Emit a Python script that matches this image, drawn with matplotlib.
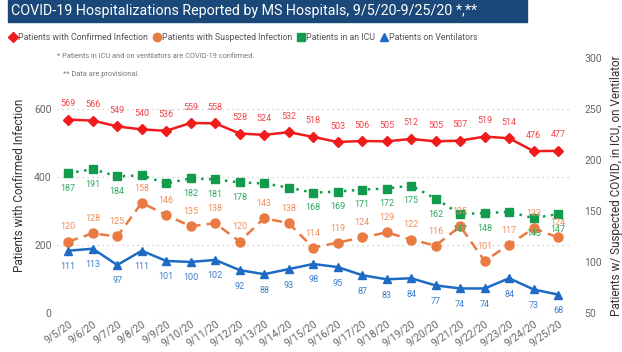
import matplotlib.pyplot as plt
from matplotlib.patches import Rectangle
from matplotlib.lines import Line2D

plt.rcParams['font.family'] = ['Roboto', 'DejaVu Sans']

dates = ['9/5/20', '9/6/20', '9/7/20', '9/8/20', '9/9/20', '9/10/20', '9/11/20',
         '9/12/20', '9/13/20', '9/14/20', '9/15/20', '9/16/20', '9/17/20', '9/18/20',
         '9/19/20', '9/20/20', '9/21/20', '9/22/20', '9/23/20', '9/24/20', '9/25/20']
confirmed = [569, 566, 549, 540, 536, 559, 558, 528, 524, 532, 518,
             503, 506, 505, 512, 505, 507, 519, 514, 476, 477]
suspected = [120, 128, 125, 158, 146, 135, 138, 120, 143, 138, 114,
             119, 124, 129, 122, 116, 135, 101, 117, 133, 124]
icu = [187, 191, 184, 185, 177, 182, 181, 178, 177, 173, 168,
       169, 171, 172, 175, 162, 147, 148, 149, 143, 147]
vent = [111, 113, 97, 111, 101, 100, 102, 92, 88, 93, 98,
        95, 87, 83, 84, 77, 74, 74, 84, 73, 68]
# ICU labels hidden in the original (collisions)
icu_hidden = [3, 4, 8, 9, 18]

c_red = '#F01B1B'
c_orange = '#E97A41'
c_green = '#129B4C'
c_blue = '#1D6BC4'

fig = plt.figure(figsize=(6.22, 3.52), dpi=100)
ax = fig.add_axes([0.092, 0.111, 0.825, 0.724])
ax2 = ax.twinx()

x = list(range(len(dates)))

ax.plot(x, confirmed, color=c_red, lw=1.8, marker='D', ms=5.5, zorder=5)
ax2.plot(x, icu, color=c_green, lw=1.8, ls=(0, (1, 2.2)), marker='s', ms=5.5)
ax2.plot(x, suspected, color=c_orange, lw=1.8, ls=(0, (4, 2.5)), marker='o', ms=6.5)
ax2.plot(x, vent, color=c_blue, lw=1.8, marker='^', ms=6)

lab = dict(fontsize=6.5, ha='center', va='center', textcoords='offset points')
for i in x:
    ax.annotate(str(confirmed[i]), (i, confirmed[i]), xytext=(0, 11.5), color='#F0454A', **lab)
    ax2.annotate(str(suspected[i]), (i, suspected[i]), xytext=(0, 10.5), color='#EE8E5E', **lab)
    if i not in icu_hidden:
        ax2.annotate(str(icu[i]), (i, icu[i]), xytext=(0, -11), color='#2EA85F', **lab)
    ax2.annotate(str(vent[i]), (i, vent[i]), xytext=(0, -11.5), color='#3B7FCC', **lab)

ax.set_xlim(-0.45, 20.5)
ax.set_ylim(0, 750)
ax2.set_ylim(50, 300)
ax.set_yticks([0, 200, 400, 600])
ax2.set_yticks([50, 100, 150, 200, 250, 300])
ax.grid(axis='y', color='#C8C8C8', ls=(0, (1, 3)), lw=0.9)
ax.set_axisbelow(True)

ax.set_xticks(x)
ax.set_xticklabels(dates, rotation=35, ha='right', rotation_mode='anchor', fontsize=6.5, color='#666666')
for a in (ax, ax2):
    for s in a.spines.values():
        s.set_visible(False)
    a.tick_params(length=0, labelsize=7.5, colors='#666666')
ax.tick_params(axis='x', pad=4)
ax.tick_params(axis='y', pad=4)
ax2.tick_params(axis='y', pad=10)

ax.set_ylabel('Patients with Confirmed Infection', fontsize=8.5, color='#333333', labelpad=6)
ax2.set_ylabel('Patients w/ Suspected COVID, in ICU, on Ventilator', fontsize=8.5, color='#333333', labelpad=6)

# title bar
fig.patches.append(Rectangle((8 / 622, 1 - 22 / 352), 519 / 622, 22 / 352,
                             transform=fig.transFigure, color='#1A4878', zorder=0))
fig.text(11 / 622, 1 - 11 / 352, 'COVID-19 Hospitalizations Reported by MS Hospitals, 9/5/20-9/25/20 *,**',
         color='white', fontsize=10.3, va='center', ha='left')

# legend
handles = [Line2D([], [], color=c_red, marker='D', ls='none', ms=5),
           Line2D([], [], color=c_orange, marker='o', ls='none', ms=6),
           Line2D([], [], color=c_green, marker='s', ls='none', ms=6),
           Line2D([], [], color=c_blue, marker='^', ls='none', ms=6)]
names = ['Patients with Confirmed Infection', 'Patients with Suspected Infection',
         'Patients in an ICU', 'Patients on Ventilators']
fig.legend(handles, names, loc='center left', bbox_to_anchor=(0.005, 1 - 38 / 352), ncol=4,
           frameon=False, fontsize=6.3, handletextpad=0.1, columnspacing=0.5,
           handlelength=1.0, labelcolor='#555555', borderpad=0.1)

fig.text(57 / 622, 1 - 57 / 352, '* Patients in ICU and on ventilators are COVID-19 confirmed.',
         fontsize=5.3, color='#777777', va='center')
fig.text(63 / 622, 1 - 75 / 352, '** Data are provisional.', fontsize=5.3, color='#777777', va='center')

fig.savefig('out.png', dpi=100)
